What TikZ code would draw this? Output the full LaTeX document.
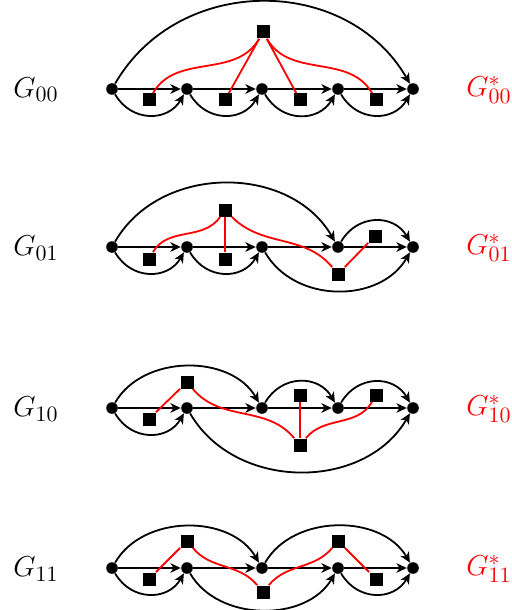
\documentclass[tikz,border=0pt]{standalone}
\usetikzlibrary{arrows.meta}
\begin{document}
\begin{tikzpicture}[x=0.5pt, y=-0.5pt,
  vtx/.style={circle, fill=black, inner sep=0pt, minimum size=5.8pt},
  dual/.style={rectangle, fill=black, inner sep=0pt, minimum size=6.5pt},
  lbl/.style={font=\fontsize{15.5}{18}\selectfont, inner sep=0pt},
  arc/.style={line width=0.9pt, -{Stealth[length=5.2pt, width=4.8pt, inset=1.6pt]}},
  dedge/.style={red, line width=0.9pt}]
  \useasboundingbox (0,0) rectangle (511,610);
  \foreach \r/\y in {a/89, b/247, c/408, d/568}
    \foreach \i/\x in {0/112, 1/187, 2/262, 3/338, 4/413}
      \node[vtx] (\r\i) at (\x,\y) {};
  \foreach \r in {a,b,c,d}
    \foreach \i/\j in {0/1, 1/2, 2/3, 3/4}
      \draw[arc] (\r\i) -- (\r\j);

  \node[lbl] (ga) at (36,90) {$G_{00}$};
  \node[lbl, red] (sa) at (489,90) {$G^*_{00}$};
  \node[lbl] (gb) at (36,248) {$G_{01}$};
  \node[lbl, red] (sb) at (489,248) {$G^*_{01}$};
  \node[lbl] (gc) at (36,409) {$G_{10}$};
  \node[lbl, red] (sc) at (489,409) {$G^*_{10}$};
  \node[lbl] (gd) at (36,569) {$G_{11}$};
  \node[lbl, red] (sd) at (489,569) {$G^*_{11}$};

  \foreach \i/\j in {0/1, 1/2, 2/3, 3/4}
    \draw[arc] (a\i) to[out=-60, in=-120, looseness=1.2] (a\j);
  \draw[arc] (a0) to[out=60, in=120, looseness=1.1] (a4);
  \node[dual] (pa) at (263,32) {};
  \node[dual] (pa1) at (149,100) {};
  \node[dual] (pa2) at (225,100) {};
  \node[dual] (pa3) at (300,100) {};
  \node[dual] (pa4) at (376,100) {};
  \draw[dedge] (pa) to[out=-120, in=60] (pa1);
  \draw[dedge] (pa) -- (pa2);
  \draw[dedge] (pa) -- (pa3);
  \draw[dedge] (pa) to[out=-60, in=120] (pa4);

  \draw[arc] (b0) to[out=-60, in=-120, looseness=1.2] (b1);
  \draw[arc] (b1) to[out=-60, in=-120, looseness=1.2] (b2);
  \draw[arc] (b2) to[out=-60, in=-120, looseness=1.05] (b4);
  \draw[arc] (b0) to[out=60, in=120, looseness=1.05] (b3);
  \draw[arc] (b3) to[out=60, in=120, looseness=1.2] (b4);
  \node[dual] (pb) at (225,210) {};
  \node[dual] (pb1) at (149,259) {};
  \node[dual] (pb2) at (225,259) {};
  \node[dual] (pb3) at (338,274) {};
  \node[dual] (pb4) at (375,236) {};
  \draw[dedge] (pb1) to[out=60, in=-125] (pb);
  \draw[dedge] (pb) -- (pb2);
  \draw[dedge] (pb) to[out=-45, in=130] (pb3);
  \draw[dedge] (pb3) -- (pb4);

  \draw[arc] (c0) to[out=-60, in=-120, looseness=1.2] (c1);
  \draw[arc] (c0) to[out=60, in=120] (c2);
  \draw[arc] (c1) to[out=-60, in=-120, looseness=1.05] (c4);
  \draw[arc] (c2) to[out=60, in=120, looseness=1.2] (c3);
  \draw[arc] (c3) to[out=60, in=120, looseness=1.2] (c4);
  \node[dual] (pc) at (187,382) {};
  \node[dual] (pc1) at (149,419) {};
  \node[dual] (pc2) at (300,395) {};
  \node[dual] (pc3) at (376,395) {};
  \node[dual] (qc) at (300,445) {};
  \draw[dedge] (pc1) -- (pc);
  \draw[dedge] (pc) to[out=-50, in=130] (qc);
  \draw[dedge] (pc2) -- (qc);
  \draw[dedge] (qc) to[out=50, in=-120] (pc3);

  \draw[arc] (d0) to[out=-60, in=-120, looseness=1.2] (d1);
  \draw[arc] (d0) to[out=60, in=120] (d2);
  \draw[arc] (d1) to[out=-60, in=-120] (d3);
  \draw[arc] (d2) to[out=60, in=120] (d4);
  \draw[arc] (d3) to[out=-60, in=-120, looseness=1.2] (d4);
  \node[dual] (pd) at (187,541) {};
  \node[dual] (pd1) at (149,579) {};
  \node[dual] (pd2) at (338,541) {};
  \node[dual] (pd3) at (376,579) {};
  \node[dual] (qd) at (263,592) {};
  \draw[dedge] (pd1) -- (pd);
  \draw[dedge] (pd) to[out=-50, in=130] (qd);
  \draw[dedge] (qd) to[out=50, in=-130] (pd2);
  \draw[dedge] (pd2) -- (pd3);
\end{tikzpicture}
\end{document}
